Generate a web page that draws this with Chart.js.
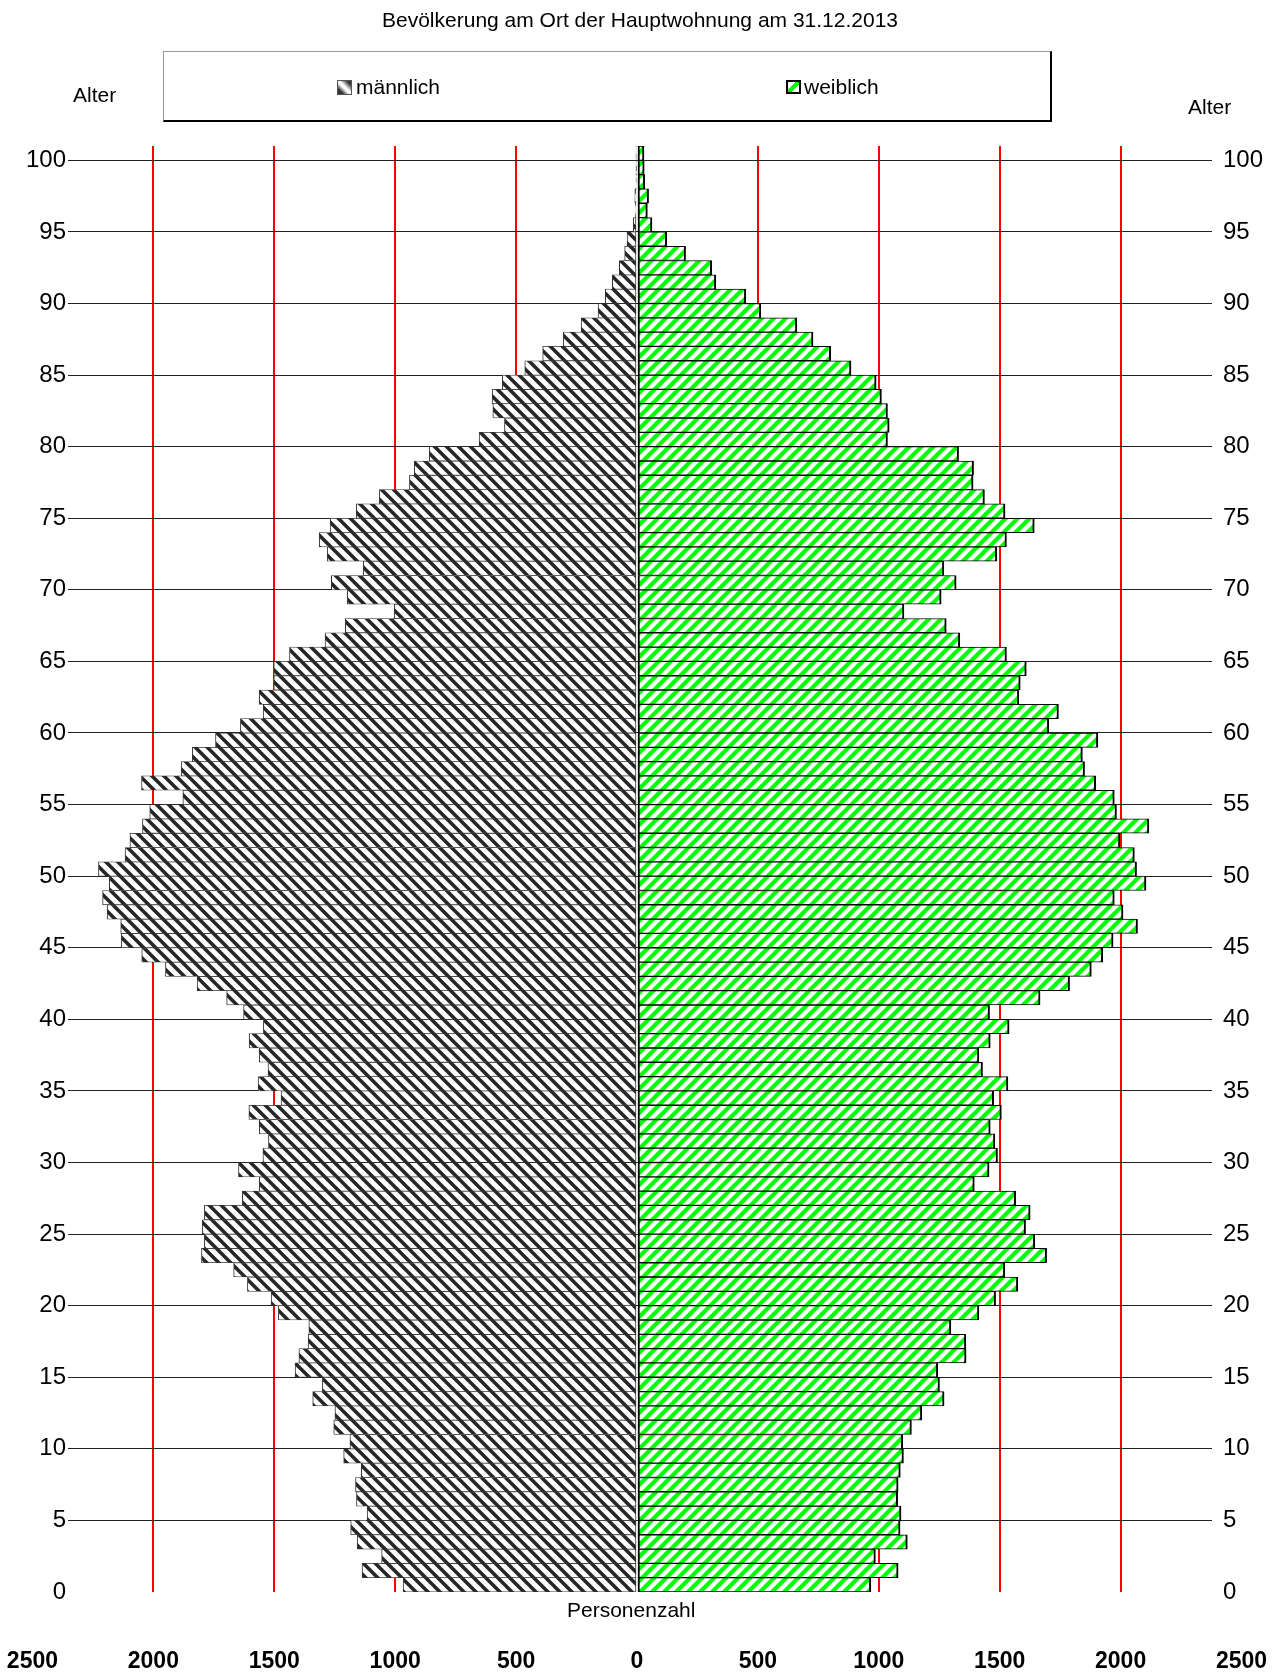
<!DOCTYPE html>
<html>
<head>
<meta charset="utf-8">
<script src="https://cdn.jsdelivr.net/npm/chart.js@4/dist/chart.umd.min.js"></script>
<style>
html,body{margin:0;padding:0;background:#fff;}
#wrap{position:relative;width:1279px;height:1678px;font-family:'Liberation Sans',Arial,sans-serif;color:#000;overflow:hidden;}
#c{position:absolute;left:0;top:0;}
.t{position:absolute;white-space:nowrap;line-height:1;font-size:21px;}
.box{position:absolute;}
</style>
</head>
<body>
<div id="wrap">
<canvas id="c" width="1279" height="1678"></canvas>
<div class="t" style="left:382px;top:9px;">Bevölkerung am Ort der Hauptwohnung am 31.12.2013</div>
<div class="box" style="left:163px;top:51px;width:886px;height:68px;border-top:1px solid #999;border-left:1px solid #999;border-right:2px solid #000;border-bottom:2px solid #000;"></div>
<div class="box" style="left:337px;top:80px;width:13px;height:13px;border:1px solid #555;background:linear-gradient(45deg,#333 0%,#333 20%,#fff 45%,#fff 55%,#333 85%);"></div>
<div class="t" style="left:356px;top:76px;">männlich</div>
<div class="box" style="left:786px;top:80px;width:11px;height:10px;border:2px solid #000;background:linear-gradient(135deg,#fff 38%,#00ff00 38%,#00ff00 66%,#fff 66%);"></div>
<div class="t" style="left:804px;top:76px;">weiblich</div>
<div class="t" style="left:73px;top:84px;">Alter</div>
<div class="t" style="left:1188px;top:96px;">Alter</div>
<div class="t" style="left:567px;top:1599px;">Personenzahl</div>
</div>
<script>
// Age categories (years)
const ages = [0,1,2,3,4,5,6,7,8,9,10,11,12,13,14,15,16,17,18,19,20,21,22,23,24,25,26,27,28,29,30,31,32,33,34,35,36,37,38,39,40,41,42,43,44,45,46,47,48,49,50,51,52,53,54,55,56,57,58,59,60,61,62,63,64,65,66,67,68,69,70,71,72,73,74,75,76,77,78,79,80,81,82,83,84,85,86,87,88,89,90,91,92,93,94,95,96,97,98,99,100];

// männlich, persons per age 0..100
const maleValues = [967,1137,1056,1157,1184,1116,1160,1164,1140,1213,
 1187,1254,1249,1341,1301,1414,1398,1360,1357,1483,
 1513,1611,1668,1801,1789,1798,1789,1632,1562,1648,
 1547,1524,1562,1605,1472,1567,1526,1562,1604,1545,
 1627,1697,1819,1950,2048,2133,2135,2191,2210,2182,
 2227,2117,2097,2045,2015,1878,2049,1885,1839,1743,
 1640,1546,1562,1502,1502,1437,1290,1206,1004,1198,
 1264,1132,1281,1314,1269,1161,1066,941,921,859,
 653,548,596,599,557,464,390,305,231,161,
 131,102,73,51,41,15,6,9,3,2,
 3];

// weiblich, persons per age 0..100
const femaleValues = [967,1080,986,1118,1088,1092,1078,1080,1089,1102,
 1099,1135,1178,1270,1251,1244,1361,1360,1298,1414,
 1483,1575,1521,1694,1645,1607,1626,1566,1395,1456,
 1491,1480,1461,1507,1475,1534,1429,1414,1461,1539,
 1458,1667,1789,1879,1926,1969,2070,2010,1974,2105,
 2066,2057,1997,2117,1983,1974,1897,1851,1842,1906,
 1703,1743,1579,1585,1610,1528,1335,1279,1104,1258,
 1320,1269,1488,1528,1643,1522,1437,1390,1392,1330,
 1036,1043,1036,1011,989,885,801,728,661,512,
 450,326,309,201,123,62,43,48,32,30,
 29];

// tick labels
const ageTicks = [0,5,10,15,20,25,30,35,40,45,50,55,60,65,70,75,80,85,90,95,100];
const countTicks = [-2500,-2000,-1500,-1000,-500,0,500,1000,1500,2000,2500];
const redLineValues = [500,1000,1500,2000];

Chart.defaults.font.family = "'Liberation Sans', Arial, sans-serif";
Chart.defaults.color = '#000';

function makeStripes(size, bg, fg, lw, rising) {
  const cv = document.createElement('canvas');
  cv.width = size; cv.height = size;
  const g = cv.getContext('2d');
  g.fillStyle = bg; g.fillRect(0, 0, size, size);
  g.strokeStyle = fg; g.lineWidth = lw; g.lineCap = 'square';
  g.beginPath();
  for (const o of [-size, 0, size]) {
    if (rising) { g.moveTo(o, size); g.lineTo(o + size, 0); }
    else { g.moveTo(o, 0); g.lineTo(o + size, size); }
  }
  g.stroke();
  return g.createPattern(cv, 'repeat');
}

const ctx = document.getElementById('c').getContext('2d');
const malePattern = makeStripes(12, '#ffffff', '#262626', 3.6, false);
const femalePattern = makeStripes(12, '#ffffff', '#00ff00', 4.2, true);

new Chart(ctx, {
  type: 'bar',
  data: {
    labels: ages,
    datasets: [
      {
        label: 'männlich',
        data: maleValues.map(v => -v),
        backgroundColor: malePattern,
        borderColor: '#333333',
        borderWidth: {top: 0.75, bottom: 0.75, left: 1, right: 1},
        borderSkipped: false,
        grouped: false,
        barPercentage: 1,
        categoryPercentage: 1,
        xAxisID: 'x',
        yAxisID: 'y'
      },
      {
        label: 'weiblich',
        data: femaleValues,
        backgroundColor: femalePattern,
        borderColor: '#000000',
        borderWidth: {top: 1, bottom: 1, left: 2, right: 2},
        borderSkipped: false,
        grouped: false,
        barPercentage: 1,
        categoryPercentage: 1,
        xAxisID: 'x',
        yAxisID: 'y'
      }
    ]
  },
  options: {
    indexAxis: 'y',
    responsive: false,
    animation: false,
    events: [],
    layout: {padding: {top: 146, left: 0, right: 0, bottom: 0}},
    plugins: {legend: {display: false}, tooltip: {enabled: false}, title: {display: false}},
    scales: {
      x: {
        type: 'linear',
        position: 'bottom',
        min: -2353,
        max: 2378,
        offset: false,
        afterBuildTicks: s => { s.ticks = countTicks.map(v => ({value: v})); },
        afterFit: s => { s.height = 86; s.paddingLeft = 0; s.paddingRight = 0; },
        ticks: {
          autoSkip: false, maxRotation: 0, minRotation: 0, padding: 56,
          font: {size: 23, weight: 'bold'}, color: '#000',
          callback: v => String(Math.abs(v))
        },
        grid: {
          offset: false, drawTicks: false, lineWidth: 2,
          color: c => (c.tick && redLineValues.includes(Math.abs(c.tick.value))) ? '#ff0000' : 'rgba(0,0,0,0)'
        },
        border: {display: false}
      },
      y: {
        type: 'category',
        reverse: true,
        display: false,
        offset: true,
        grid: {display: false}
      },
      yL: {
        type: 'linear',
        position: 'left',
        min: 0,
        max: 101,
        offset: false,
        afterBuildTicks: s => { s.ticks = ageTicks.map(v => ({value: v})); },
        afterFit: s => { s.width = 68; },
        ticks: {autoSkip: false, padding: 2, font: {size: 24}, color: '#000'},
        grid: {
          offset: false, drawTicks: false, lineWidth: 1,
          color: c => (c.tick && c.tick.value === 0) ? 'rgba(0,0,0,0)' : '#222222'
        },
        border: {display: false}
      },
      yR: {
        type: 'linear',
        position: 'right',
        min: 0,
        max: 101,
        offset: false,
        afterBuildTicks: s => { s.ticks = ageTicks.map(v => ({value: v})); },
        afterFit: s => { s.width = 67; },
        ticks: {autoSkip: false, padding: 11, font: {size: 24}, color: '#000'},
        grid: {display: false, offset: false, drawTicks: false},
        border: {display: false}
      }
    }
  }
});
</script>
</body>
</html>
